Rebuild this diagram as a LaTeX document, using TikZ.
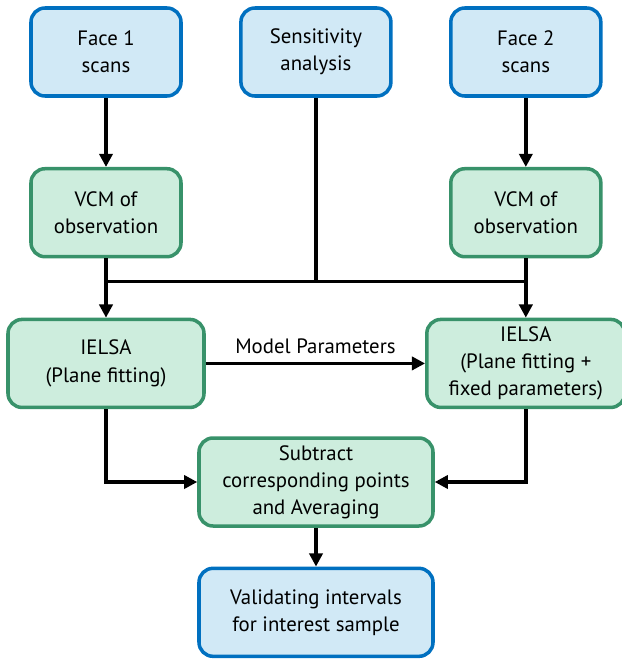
\documentclass[tikz,border=0pt]{standalone}
\usepackage{fontspec}
\setmainfont{PT Sans}
\usepackage{xcolor}
\usepackage{tikz}
\usetikzlibrary{arrows.meta,positioning}
\definecolor{myblue}{RGB}{0,112,192}
\definecolor{mybluefill}{RGB}{209,233,246}
\definecolor{mygreen}{RGB}{56,146,106}
\definecolor{mygreenfill}{RGB}{205,237,221}

\begin{document}
\begin{tikzpicture}[node distance=1.41cm, font=\fontsize{14.8}{19.3}\selectfont]
    \tikzstyle{box}=[draw, line width=2.5pt, rounded corners=0.35cm, minimum width=3.75cm, minimum height=2.2cm, inner sep=2pt, align=center]
    \tikzstyle{bluebox}=[box, draw=myblue, fill=mybluefill]
    \tikzstyle{greenbox}=[box, draw=mygreen, fill=mygreenfill]
    \tikzstyle{arr}=[line width=2.5pt, -{Triangle[length=3.3mm,width=3.3mm]}]
    \useasboundingbox (0,0) rectangle (15.55,-16.5);
    \node[bluebox] (face1) at (2.65,-1.3) {Face 1\\scans};
    \node[bluebox, right=1.41cm of face1] (sens) {Sensitivity\\analysis};
    \node[bluebox, right=1.41cm of sens] (face2) {Face 2\\scans};
    \node[greenbox, below=1.73cm of face1] (vcm1) {VCM of\\observation};
    \node[greenbox, below=1.73cm of face2] (vcm2) {VCM of\\observation};
    \node[greenbox, minimum width=4.9cm, below=1.48cm of vcm1] (ielsa1) {IELSA\\(Plane fitting)};
    \node[greenbox, minimum width=4.95cm, below=1.48cm of vcm2] (ielsa2) {IELSA\\(Plane fitting +\\fixed parameters)};
    \node[greenbox, minimum width=5.85cm, minimum height=2.2cm] (sub) at (7.9,-12.05) {Subtract\\corresponding points\\and Averaging};
    \node[bluebox, minimum width=5.85cm, below=0.97cm of sub] (val) {Validating intervals\\for interest sample};
    \coordinate[below=0.58cm of vcm1.south] (j1);
    \coordinate[below=0.58cm of vcm2.south] (j2);
    \draw[arr] (face1) -- (vcm1);
    \draw[arr] (face2) -- (vcm2);
    \draw[arr] (vcm1) -- (ielsa1);
    \draw[arr] (vcm2) -- (ielsa2);
    \draw[line width=2.5pt] (j1) -- (j2);
    \draw[line width=2.5pt] (sens) -- (sens |- j1);
    \draw[arr] (ielsa1) -- node[above=2pt] {Model Parameters} (ielsa2);
    \draw[arr] (ielsa1) |- (sub);
    \draw[arr] (ielsa2) |- (sub);
    \draw[arr] (sub) -- (val);
\end{tikzpicture}
\end{document}
